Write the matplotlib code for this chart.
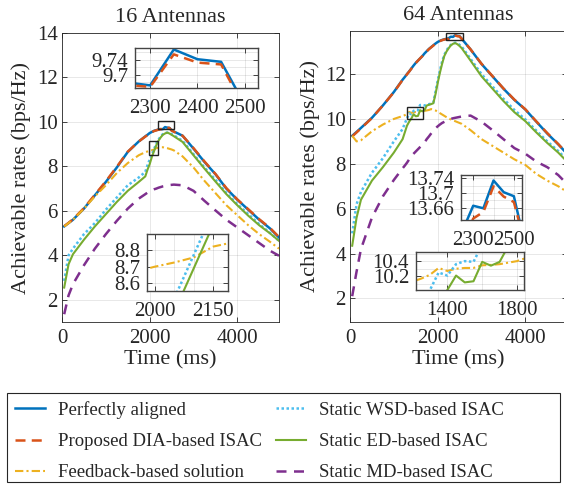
import matplotlib
matplotlib.use('Agg')
import matplotlib.pyplot as plt
from matplotlib.patches import Rectangle

plt.rcParams['font.family'] = ['Liberation Serif', 'DejaVu Serif']

# ---------------- data ----------------
series_labels = ['Perfectly aligned', 'Proposed DIA-based ISAC', 'Feedback-based solution',
                 'Static WSD-based ISAC', 'Static ED-based ISAC', 'Static MD-based ISAC']
panel_titles = ['16 Antennas', '64 Antennas']

time_16 = [50, 150, 250, 500, 750, 1000, 1250, 1500, 1750, 1900, 1950, 2000, 2050, 2100, 2150,
           2200, 2250, 2300, 2350, 2400, 2450, 2500, 2550, 2750, 3000, 3250, 3500, 3750, 4000,
           4250, 4500, 4750, 4950]
perfect_16 = [5.30, 5.45, 5.60, 6.10, 6.70, 7.30, 7.95, 8.65, 9.12, 9.35, 9.42, 9.50, 9.55, 9.60,
              9.63, 9.66, 9.68, 9.672, 9.768, 9.742, 9.735, 9.62, 9.57, 9.38, 8.80, 8.20, 7.65,
              7.00, 6.50, 6.05, 5.60, 5.20, 4.80]
proposed_16 = [5.31, 5.46, 5.62, 6.12, 6.72, 7.33, 7.98, 8.66, 9.12, 9.34, 9.41, 9.49, 9.54, 9.59,
               9.62, 9.65, 9.673, 9.668, 9.755, 9.733, 9.728, 9.61, 9.56, 9.38, 8.82, 8.22, 7.66,
               7.02, 6.51, 6.07, 5.62, 5.22, 4.82]
feedback_16 = [5.30, 5.45, 5.60, 6.10, 6.65, 7.15, 7.70, 8.15, 8.50, 8.64, 8.67, 8.70, 8.725, 8.755,
               8.82, 8.845, 8.86, 8.86, 8.84, 8.82, 8.79, 8.76, 8.72, 8.45, 7.95, 7.35, 6.80, 6.25,
               5.80, 5.35, 4.95, 4.60, 4.30]
wsd_16 = [2.85, 4.00, 4.30, 4.95, 5.45, 6.05, 6.60, 7.15, 7.50, 7.75, 8.05, 8.30, 8.51, 8.77, 9.03,
          9.20, 9.35, 9.45, 9.50, 9.52, 9.50, 9.45, 9.40, 9.15, 8.55, 7.95, 7.40, 6.80, 6.30, 5.85,
          5.40, 5.00, 4.65]
ed_16 = [2.55, 3.60, 4.05, 4.70, 5.30, 5.85, 6.40, 6.90, 7.30, 7.55, 7.85, 8.10, 8.43, 8.69, 8.95,
         9.15, 9.30, 9.42, 9.48, 9.52, 9.48, 9.42, 9.36, 9.10, 8.50, 7.90, 7.32, 6.75, 6.25, 5.78,
         5.35, 4.98, 4.65]
md_16 = [1.35, 2.20, 2.70, 3.55, 4.30, 4.95, 5.55, 6.10, 6.55, 6.75, 6.82, 6.88, 6.93, 6.97, 7.00,
         7.04, 7.07, 7.10, 7.12, 7.14, 7.16, 7.17, 7.18, 7.15, 6.90, 6.45, 6.02, 5.60, 5.25, 4.90,
         4.55, 4.20, 3.98]

time_64 = [50, 150, 250, 500, 750, 1000, 1200, 1250, 1300, 1350, 1400, 1450, 1500, 1550, 1600,
           1650, 1700, 1750, 1800, 1850, 1900, 1950, 2000, 2050, 2100, 2150, 2200, 2250, 2300,
           2350, 2400, 2450, 2500, 2550, 2750, 3000, 3250, 3500, 3750, 4000, 4250, 4500, 4750, 4950]
perfect_64 = [9.25, 9.42, 9.60, 10.05, 10.60, 11.20, 11.75, 11.87, 12.00, 12.12, 12.25, 12.38,
              12.50, 12.60, 12.70, 12.80, 12.92, 13.02, 13.12, 13.20, 13.28, 13.36, 13.43, 13.48,
              13.52, 13.55, 13.57, 13.60, 13.665, 13.658, 13.734, 13.702, 13.691, 13.57, 13.10,
              12.45, 11.90, 11.35, 10.85, 10.42, 9.88, 9.35, 8.87, 8.45]
proposed_64 = [9.22, 9.40, 9.58, 10.04, 10.60, 11.19, 11.74, 11.86, 11.99, 12.11, 12.24, 12.37,
               12.49, 12.60, 12.70, 12.80, 12.91, 13.01, 13.11, 13.19, 13.27, 13.35, 13.42, 13.47,
               13.51, 13.54, 13.56, 13.56, 13.63, 13.648, 13.718, 13.69, 13.675, 13.57, 13.10,
               12.46, 11.91, 11.36, 10.86, 10.43, 9.89, 9.37, 8.88, 8.46]
feedback_64 = [9.25, 9.00, 9.05, 9.45, 9.75, 10.00, 10.13, 10.17, 10.22, 10.31, 10.27, 10.30,
               10.31, 10.31, 10.345, 10.35, 10.36, 10.38, 10.40, 10.44, 10.42, 10.38, 10.32, 10.26,
               10.20, 10.14, 10.08, 10.02, 9.98, 9.94, 9.90, 9.86, 9.82, 9.78, 9.50, 9.10, 8.80,
               8.50, 8.20, 7.95, 7.55, 7.25, 7.00, 6.75]
wsd_64 = [4.90, 6.20, 6.75, 7.60, 8.25, 9.00, 9.55, 9.80, 10.02, 10.25, 10.21, 10.36, 10.40, 10.39,
          10.62, 10.62, 10.60, 10.63, 10.66, 10.68, 10.72, 11.20, 11.70, 12.15, 12.55, 12.85, 13.05,
          13.20, 13.30, 13.37, 13.40, 13.38, 13.30, 13.22, 12.68, 12.00, 11.45, 10.90, 10.40, 9.98,
          9.48, 9.00, 8.57, 8.18]
ed_64 = [4.35, 5.60, 6.40, 7.25, 7.85, 8.50, 9.10, 9.40, 9.70, 9.88, 10.02, 10.21, 10.12, 10.135,
         10.39, 10.34, 10.39, 10.60, 10.63, 10.66, 10.70, 11.10, 11.60, 12.05, 12.45, 12.80, 13.00,
         13.15, 13.28, 13.35, 13.38, 13.33, 13.25, 13.15, 12.60, 11.90, 11.35, 10.80, 10.30, 9.90,
         9.40, 8.93, 8.50, 8.10]
md_64 = [2.10, 3.20, 4.20, 5.60, 6.55, 7.28, 7.80, 7.92, 8.05, 8.20, 8.35, 8.45, 8.55, 8.65, 8.75,
         8.85, 8.95, 9.10, 9.22, 9.35, 9.48, 9.58, 9.67, 9.75, 9.82, 9.87, 9.92, 9.97, 10.00, 10.03,
         10.05, 10.07, 10.09, 10.11, 10.15, 9.88, 9.50, 9.10, 8.70, 8.45, 8.10, 7.85, 7.50, 7.10]

# ---------------- styles ----------------
colors = ['#0072BD', '#D95319', '#EDB120', '#4DBEEE', '#77AC30', '#7E2F8E']
styles = ['-', (0, (4, 2.5)), (0, (4, 1.5, 1, 1.5)), (0, (1, 1)), '-', (0, (4, 3))]
widths = [1.8, 1.8, 1.5, 1.8, 1.5, 1.8]
TXT = '#262626'
FS = 15

W, H = 564, 491


def fr(x0, y0, x1, y1):
    return [x0 / W, 1 - y1 / H, (x1 - x0) / W, (y1 - y0) / H]


def style_axes(ax, pad_x=5, pad_y=3, ecol=TXT, lw=0.6):
    for s in ax.spines.values():
        s.set_color(ecol)
        s.set_linewidth(lw)
    ax.tick_params(direction='in', top=True, right=True, length=3.5, width=0.6,
                   colors=TXT, labelsize=FS, which='both')
    ax.tick_params(axis='x', pad=pad_x, which='both')
    ax.tick_params(axis='y', pad=pad_y, which='both')
    ax.tick_params(which='minor', length=0)
    ax.grid(True, which='both', color=TXT, alpha=0.15, linewidth=0.5)
    ax.set_axisbelow(True)


def draw_lines(ax, t, ys):
    lines = []
    for y, c, ls, lw, lab in zip(ys, colors, styles, widths, series_labels):
        ln, = ax.plot(t, y, color=c, linestyle=ls, linewidth=lw, label=lab)
        lines.append(ln)
    return lines


fig = plt.figure(figsize=(W / 100, H / 100), dpi=100)

panels = [
    dict(t=time_16, ys=[perfect_16, proposed_16, feedback_16, wsd_16, ed_16, md_16],
         pos=fr(62, 33, 279, 322), ylim=(1, 14), yticks=[2, 4, 6, 8, 10, 12, 14],
         boxes=[(2200, 9.70, 2545, 10.04), (1990, 8.50, 2200, 9.13)],
         insets=[dict(pos=fr(135, 48, 258, 88), xlim=(2268, 2528), ylim=(9.665, 9.772),
                      xt=[2300, 2400, 2500], xg=[], yt=[9.70, 9.74], yg=[9.68, 9.72, 9.76]),
                 dict(pos=fr(147, 234, 228, 291), xlim=(1980, 2188), ylim=(8.555, 8.895),
                      xt=[2000, 2150], xg=[2050, 2100], yt=[8.6, 8.7, 8.8], yg=[])]),
    dict(t=time_64, ys=[perfect_64, proposed_64, feedback_64, wsd_64, ed_64, md_64],
         pos=fr(350, 31, 567, 322), ylim=(0.95, 13.92), yticks=[2, 4, 6, 8, 10, 12],
         boxes=[(2190, 13.52, 2575, 13.84), (1310, 9.99, 1655, 10.54)],
         insets=[dict(pos=fr(461, 175, 522, 220), xlim=(2240, 2540), ylim=(13.626, 13.749),
                      xt=[2300, 2500], xg=[2400], yt=[13.66, 13.70, 13.74], yg=[13.64, 13.68, 13.72]),
                 dict(pos=fr(416, 252, 524, 290), xlim=(1220, 1840), ylim=(10.02, 10.52),
                      xt=[1400, 1800], xg=[1600], yt=[10.2, 10.4], yg=[10.1, 10.3, 10.5])]),
]

handles = None
for p, title in zip(panels, panel_titles):
    ax = fig.add_axes(p['pos'])
    lines = draw_lines(ax, p['t'], p['ys'])
    if handles is None:
        handles = lines
    ax.set_xlim(0, 4950)
    ax.set_ylim(*p['ylim'])
    ax.set_xticks([0, 2000, 4000])
    ax.set_yticks(p['yticks'])
    style_axes(ax)
    ax.set_title(title, fontsize=16, color=TXT, pad=8)
    ax.set_xlabel('Time (ms)', fontsize=16, color=TXT, labelpad=2)
    ax.set_ylabel('Achievable rates (bps/Hz)', fontsize=16, color=TXT, labelpad=4)
    for (x0, y0, x1, y1) in p['boxes']:
        ax.add_patch(Rectangle((x0, y0), x1 - x0, y1 - y0, fill=False, edgecolor='#222222',
                               linewidth=1.0, zorder=5))
    for ins in p['insets']:
        ia = fig.add_axes(ins['pos'])
        draw_lines(ia, p['t'], p['ys'])
        ia.set_xlim(*ins['xlim'])
        ia.set_ylim(*ins['ylim'])
        ia.set_xticks(ins['xt'])
        ia.set_xticks(ins['xg'], minor=True)
        ia.set_yticks(ins['yt'])
        ia.set_yticklabels([('%g' % v) for v in ins['yt']])
        ia.set_yticks(ins['yg'], minor=True)
        style_axes(ia, pad_x=8, pad_y=5, ecol='#444444', lw=1.0)

# legend (frame drawn separately to match the wide box)
leg = fig.legend(handles=handles, ncol=2, loc='upper left',
                 bbox_to_anchor=(15 / W, 1 - 401 / H),
                 fontsize=13.5, frameon=False, handlelength=1.6, handletextpad=0.7,
                 columnspacing=0.75, labelspacing=0.75, borderpad=0, borderaxespad=0)
for t in leg.get_texts():
    t.set_color(TXT)
fig.add_artist(Rectangle((7 / W, 1 - 482 / H), (560 - 7) / W, (482 - 393) / H,
                         transform=fig.transFigure, fill=False, edgecolor='#262626',
                         linewidth=0.8))

fig.savefig('out.png', dpi=100)
